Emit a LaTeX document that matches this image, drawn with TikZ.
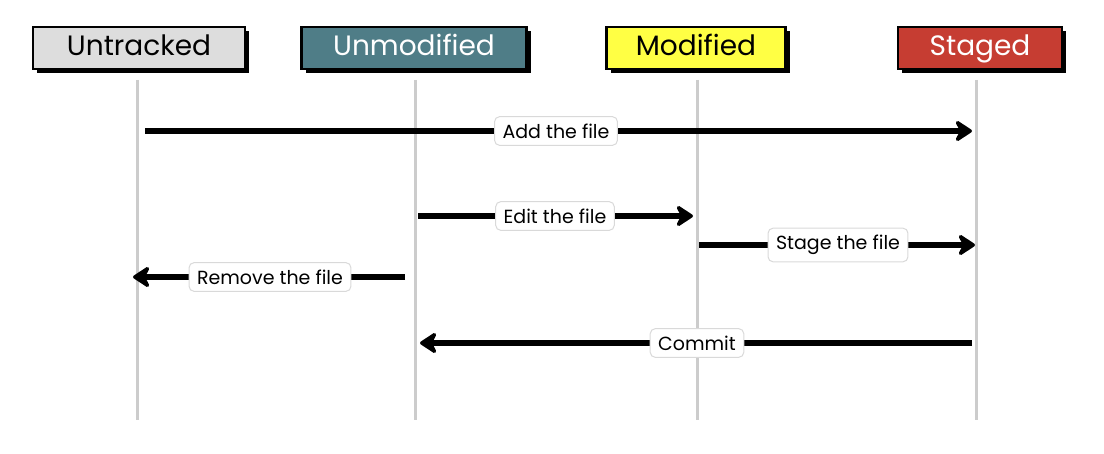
\documentclass[tikz,border=0pt]{standalone}
\usepackage{fontspec}
\setmainfont{Poppins}
\usetikzlibrary{arrows.meta,positioning,shadows}
\definecolor{untrackedgray}{HTML}{DDDDDD}
\definecolor{unmodteal}{HTML}{4F7D87}
\definecolor{modyellow}{HTML}{FFFF44}
\definecolor{stagedred}{HTML}{C63D32}
\tikzset{
  state/.style={draw=black, line width=2.5pt, minimum height=42pt, inner xsep=4pt,
    text height=20pt, text depth=5pt,
    font=\fontsize{28}{30}\selectfont,
    drop shadow={shadow xshift=4pt, shadow yshift=-4pt, fill=black, opacity=1}},
  lifeline/.style={draw=black!20, line width=3pt},
  transition/.style={line width=6pt, -{Stealth[length=20pt, width=26pt, round]}},
  steplabel/.style={fill=white, draw=black!15, line width=1pt, rounded corners=5pt,
    font=\fontsize{19}{21}\selectfont, inner xsep=8pt, inner ysep=7pt}
}
\begin{document}
\begin{tikzpicture}[x=1pt,y=-1pt]
\useasboundingbox (0,0) rectangle (1104,454);

% states
\node[state, fill=untrackedgray, minimum width=212pt] (untracked) at (139,48) {Untracked};
\node[state, fill=unmodteal, text=white, minimum width=225pt] (unmodified) at (414,48) {Unmodified};
\node[state, fill=modyellow, minimum width=179pt] (modified) at (696,48) {Modified};
\node[state, fill=stagedred, text=white, minimum width=164pt] (staged) at (980,48) {Staged};

% lifelines
\coordinate (u0) at (137,80); \coordinate (u1) at (137,420);
\coordinate (m0) at (415,80); \coordinate (m1) at (415,420);
\coordinate (d0) at (697,80); \coordinate (d1) at (697,420);
\coordinate (s0) at (976,80); \coordinate (s1) at (976,420);
\draw[lifeline] (u0) -- (u1);
\draw[lifeline] (m0) -- (m1);
\draw[lifeline] (d0) -- (d1);
\draw[lifeline] (s0) -- (s1);

% transitions
\coordinate (a0) at (145,131); \coordinate (a1) at (972,131);
\coordinate (e0) at (418,216); \coordinate (e1) at (693,216);
\coordinate (t0) at (699,245); \coordinate (t1) at (975,245);
\coordinate (r0) at (405,277); \coordinate (r1) at (133,277);
\coordinate (c0) at (972,343); \coordinate (c1) at (420,343);
\draw[transition] (a0) -- (a1);
\draw[transition] (e0) -- (e1);
\draw[transition] (t0) -- (t1);
\draw[transition] (r0) -- (r1);
\draw[transition] (c0) -- (c1);

\node[steplabel] (add) at (556,131) {Add the file};
\node[steplabel] (edit) at (555,216) {Edit the file};
\node[steplabel] (stage) at (838,245) {Stage the file};
\node[steplabel] (remove) at (270,277) {Remove the file};
\node[steplabel] (commit) at (697,343) {Commit};
\end{tikzpicture}
\end{document}
